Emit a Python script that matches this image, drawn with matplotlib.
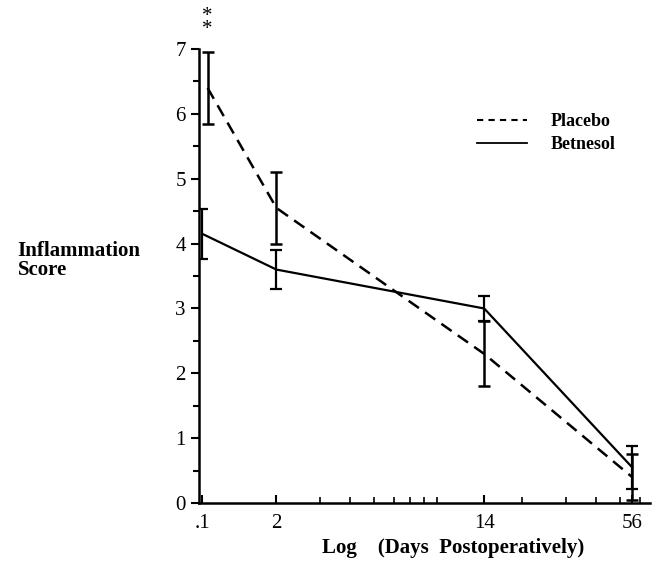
import numpy as np
import matplotlib.pyplot as plt
from matplotlib.lines import Line2D
from matplotlib.ticker import FixedLocator, LogLocator, NullFormatter, MultipleLocator

plt.rcParams['font.family'] = ['Liberation Serif', 'DejaVu Serif']

# dias postoperatorios y puntuaciones
days_placebo = [1.05, 2, 14, 56]
placebo_mean = [6.4, 4.55, 2.3, 0.4]
placebo_err = [0.55, 0.55, 0.5, 0.35]

days_betnesol = [1, 2, 14, 56]
betnesol_mean = [4.15, 3.6, 3.0, 0.55]
betnesol_err = [0.38, 0.3, 0.2, 0.33]

xticks = [1, 2, 14, 56]
xtick_labels = ['.1', '2', '14', '56']

fig = plt.figure(figsize=(6.55, 5.73), dpi=100)
ax = fig.add_axes([0.304, 0.122, 0.688, 0.7925])

dash = (0, (5, 3))
ax.errorbar(days_placebo, placebo_mean, yerr=placebo_err, color='black',
            linestyle=dash, linewidth=1.8, capsize=4, elinewidth=1.8,
            capthick=1.8)
ax.errorbar(days_betnesol, betnesol_mean, yerr=betnesol_err, color='black',
            linestyle='-', linewidth=1.6, capsize=4, elinewidth=1.6,
            capthick=1.6)

ax.set_xscale('log')
ax.set_xlim(0.97, 66)
ax.set_ylim(0, 7)
ax.xaxis.set_major_locator(FixedLocator(xticks))
ax.set_xticklabels(xtick_labels)
ax.xaxis.set_minor_locator(LogLocator(base=10, subs=np.arange(2, 10)))
ax.xaxis.set_minor_formatter(NullFormatter())
ax.yaxis.set_major_locator(MultipleLocator(1))
ax.yaxis.set_minor_locator(MultipleLocator(0.5))

for s in ['top', 'right']:
    ax.spines[s].set_visible(False)
for s in ['left', 'bottom']:
    ax.spines[s].set_linewidth(1.8)

ax.tick_params(axis='y', which='major', direction='out', length=6, width=1.5, labelsize=15)
ax.tick_params(axis='y', which='minor', direction='out', length=4, width=1.5)
ax.tick_params(axis='x', which='major', direction='in', length=6, width=1.5, labelsize=15, pad=8)
ax.tick_params(axis='x', which='minor', direction='in', length=4, width=1.2)

ax.text(days_placebo[0], 7.4, '*\n*', ha='center', va='center', fontsize=15,
        linespacing=0.55, clip_on=False)

handles = [Line2D([], [], color='black', linestyle=(0, (3, 2.5)), linewidth=1.5),
           Line2D([], [], color='black', linestyle='-', linewidth=1.3)]
ax.legend(handles, ['Placebo', 'Betnesol'], loc='upper left',
          bbox_to_anchor=(0.58, 0.895), frameon=False,
          handlelength=2.8, handletextpad=1.3, labelspacing=0.35,
          prop={'weight': 'bold', 'size': 13})

fig.text(0.027, 0.545, 'Inflammation\nScore', ha='left', va='center',
         fontsize=15, fontweight='bold', linespacing=0.95)
fig.text(0.492, 0.043, 'Log    (Days  Postoperatively)', ha='left', va='center',
         fontsize=15, fontweight='bold')

fig.savefig('out.png', dpi=100)
